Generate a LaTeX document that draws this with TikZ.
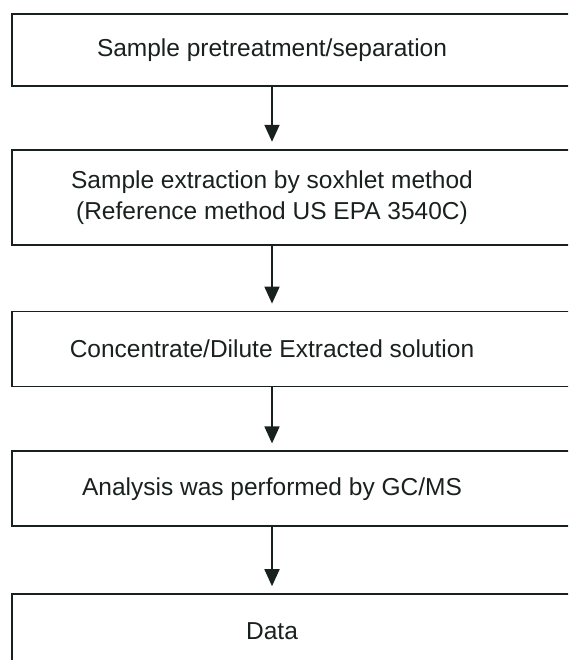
\documentclass[tikz,border=0pt]{standalone}
\usepackage{fontspec}
\setmainfont{Liberation Sans}
\usetikzlibrary{positioning, arrows.meta}
\definecolor{InkGray}{rgb}{0.10, 0.13, 0.12}

\begin{document}
\begin{tikzpicture}[x=1pt, y=1pt,
    stepbox/.style = {draw = InkGray, line width = 1.8pt, minimum width = 640pt, inner sep = 0pt},
    steptext/.style = {font = \fontsize{24.5}{31}\selectfont, align = center, text = InkGray},
    flow/.style = {-{Triangle[length = 17pt, width = 15pt]}, line width = 1.8pt, draw = InkGray, shorten > = 7pt}]
                                \clip (0,0) rectangle (568,-660);
                                \useasboundingbox (0,0) rectangle (568,-660);

                                \node[stepbox, minimum height = 72pt, anchor = north west] (b1) at (11,-13) {};
                                \node[stepbox, minimum height = 95pt, below = 62pt of b1] (b2) {};
                                \node[stepbox, minimum height = 75pt, below = 65pt of b2] (b3) {};
                                \node[stepbox, minimum height = 75pt, below = 63pt of b3] (b4) {};
                                \node[stepbox, minimum height = 75pt, below = 66pt of b4] (b5) {};

                                \coordinate (axis) at (272,0);

                                \node[steptext] (t1) at (axis |- b1.center) {Sample pretreatment/separation};
                                \node[steptext] (t2) at (axis |- b2.center) {Sample extraction by soxhlet method\\(Reference method US EPA 3540C)};
                                \node[steptext] (t3) at (axis |- b3.center) {Concentrate/Dilute Extracted solution};
                                \node[steptext] (t4) at (axis |- b4.center) {Analysis was performed by GC/MS};
                                \node[steptext] (t5) at (axis |- b5.center) {Data};

                                \draw[flow] (axis |- b1.south) -- (axis |- b2.north);
                                \draw[flow] (axis |- b2.south) -- (axis |- b3.north);
                                \draw[flow] (axis |- b3.south) -- (axis |- b4.north);
                                \draw[flow] (axis |- b4.south) -- (axis |- b5.north);
                            \end{tikzpicture}
\end{document}
